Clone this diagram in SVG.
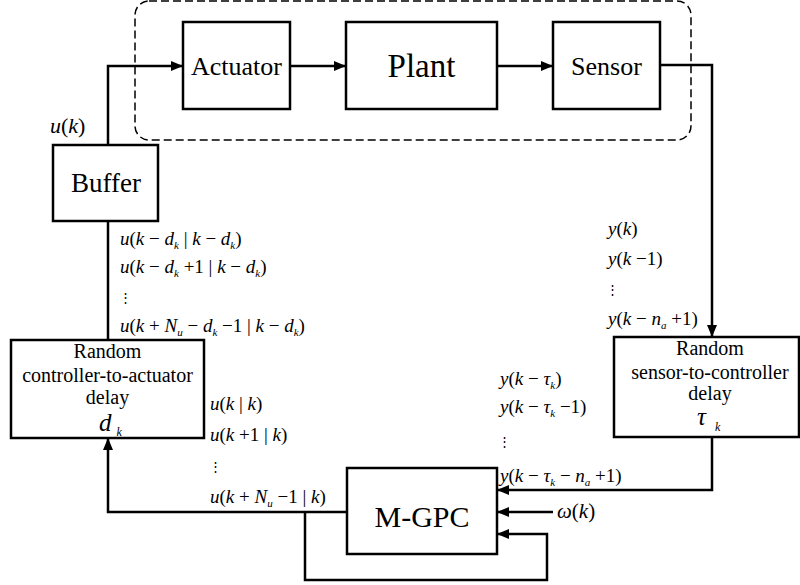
<svg xmlns="http://www.w3.org/2000/svg" width="800" height="585" viewBox="0 0 800 585" font-family="Liberation Serif, Times New Roman, serif">
<style>
.box{fill:#fff;stroke:#000;stroke-width:2.5}
.lbl{fill:#000;text-anchor:middle}
.ln{fill:none;stroke:#000;stroke-width:2.5}
.m{font-style:italic;font-size:19px;fill:#000}
.r{font-style:normal}
.s{font-size:11px}
.dots{font-size:13px;fill:#000}
</style>
<defs>
<marker id="ah" markerWidth="12" markerHeight="10" refX="12" refY="5" orient="auto" markerUnits="userSpaceOnUse">
<path d="M0,0 L12,5 L0,10 Z" fill="#000"/>
</marker>
</defs>
<rect width="800" height="585" fill="#fff"/>
<rect id="network-boundary" x="135" y="1" width="556" height="139" rx="14" fill="none" stroke="#000" stroke-width="1.5" stroke-dasharray="8 4"/>

<g id="actuator"><rect class="box" x="183" y="22" width="107" height="87"/><text class="lbl" x="236.5" y="75" font-size="26">Actuator</text></g>
<g id="plant"><rect class="box" x="346" y="22" width="151" height="87"/><text class="lbl" x="421.5" y="77" font-size="33">Plant</text></g>
<g id="sensor"><rect class="box" x="553" y="22" width="107" height="87"/><text class="lbl" x="606.5" y="75" font-size="26">Sensor</text></g>
<g id="buffer"><rect class="box" x="53" y="145" width="105" height="76"/><text class="lbl" x="106" y="192" font-size="27">Buffer</text></g>
<g id="ca-delay"><rect class="box" x="11" y="340" width="193" height="98"/>
<text class="lbl" x="107.5" y="358" font-size="20">Random</text>
<text class="lbl" x="107.5" y="382" font-size="20">controller-to-actuator</text>
<text class="lbl" x="107.5" y="404" font-size="20">delay</text>
<text class="m" x="99" y="431" style="font-size:25px">d<tspan style="font-size:12px" dx="5" dy="5">k</tspan></text></g>
<g id="sc-delay"><rect class="box" x="614" y="337" width="185" height="100"/>
<text class="lbl" x="710" y="355" font-size="20">Random</text>
<text class="lbl" x="710" y="379" font-size="20">sensor-to-controller</text>
<text class="lbl" x="710" y="400" font-size="20">delay</text>
<text class="m" x="697" y="425" style="font-size:25px">τ<tspan style="font-size:12px" dx="9" dy="6">k</tspan></text></g>
<g id="mgpc"><rect class="box" x="347" y="468" width="150" height="86"/><text class="lbl" x="422" y="527" font-size="30">M-GPC</text></g>

<g id="connectors">
<polyline class="ln" points="108,145 108,66 183,66" marker-end="url(#ah)"/>
<line class="ln" x1="290" y1="66" x2="346" y2="66" marker-end="url(#ah)"/>
<line class="ln" x1="497" y1="66" x2="553" y2="66" marker-end="url(#ah)"/>
<polyline class="ln" points="660,65 712,65 712,337" marker-end="url(#ah)"/>
<line class="ln" x1="108" y1="221" x2="108" y2="340"/>
<polyline class="ln" points="712,437 712,490 497,490" marker-end="url(#ah)"/>
<line class="ln" x1="553" y1="512" x2="497" y2="512" marker-end="url(#ah)"/>
<polyline class="ln" points="347,512 108,512 108,438" marker-end="url(#ah)"/>
<polyline class="ln" points="305,512 305,580 547,580 547,534 497,534" marker-end="url(#ah)"/>
</g>

<g id="labels">
<text class="m" x="50" y="133" style="font-size:22px">u<tspan class="r">(</tspan>k<tspan class="r">)</tspan></text>

<text class="m" x="120" y="245">u<tspan class="r">(</tspan>k <tspan class="r">−</tspan> d<tspan class="s" dy="4">k</tspan><tspan class="r" dy="-4"> | </tspan>k <tspan class="r">−</tspan> d<tspan class="s" dy="4">k</tspan><tspan class="r" dy="-4">)</tspan></text>
<text class="m" x="120" y="273">u<tspan class="r">(</tspan>k <tspan class="r">−</tspan> d<tspan class="s" dy="4">k</tspan><tspan class="r" dy="-4"> +1 | </tspan>k <tspan class="r">−</tspan> d<tspan class="s" dy="4">k</tspan><tspan class="r" dy="-4">)</tspan></text>
<text class="dots" x="119" y="302">⋮</text>
<text class="m" x="120" y="332">u<tspan class="r">(</tspan>k <tspan class="r">+</tspan> N<tspan class="s" dy="4">u</tspan><tspan class="r" dy="-4"> − </tspan>d<tspan class="s" dy="4">k</tspan><tspan class="r" dy="-4"> −1 | </tspan>k <tspan class="r">−</tspan> d<tspan class="s" dy="4">k</tspan><tspan class="r" dy="-4">)</tspan></text>

<text class="m" x="210" y="410">u<tspan class="r">(</tspan>k<tspan class="r"> | </tspan>k<tspan class="r">)</tspan></text>
<text class="m" x="210" y="441">u<tspan class="r">(</tspan>k <tspan class="r">+1 | </tspan>k<tspan class="r">)</tspan></text>
<text class="dots" x="209" y="471">⋮</text>
<text class="m" x="210" y="503">u<tspan class="r">(</tspan>k <tspan class="r">+</tspan> N<tspan class="s" dy="4">u</tspan><tspan class="r" dy="-4"> −1 | </tspan>k<tspan class="r">)</tspan></text>

<text class="m" x="608" y="235">y<tspan class="r">(</tspan>k<tspan class="r">)</tspan></text>
<text class="m" x="608" y="265">y<tspan class="r">(</tspan>k <tspan class="r">−1)</tspan></text>
<text class="dots" x="606" y="294">⋮</text>
<text class="m" x="608" y="325">y<tspan class="r">(</tspan>k <tspan class="r">−</tspan> n<tspan class="s" dy="4">a</tspan><tspan class="r" dy="-4"> +1)</tspan></text>

<text class="m" x="500" y="385">y<tspan class="r">(</tspan>k <tspan class="r">−</tspan> τ<tspan class="s" dy="4">k</tspan><tspan class="r" dy="-4">)</tspan></text>
<text class="m" x="500" y="413">y<tspan class="r">(</tspan>k <tspan class="r">−</tspan> τ<tspan class="s" dy="4">k</tspan><tspan class="r" dy="-4"> −1)</tspan></text>
<text class="dots" x="498" y="446">⋮</text>
<text class="m" x="500" y="482">y<tspan class="r">(</tspan>k <tspan class="r">−</tspan> τ<tspan class="s" dy="4">k</tspan><tspan class="r" dy="-4"> − </tspan>n<tspan class="s" dy="4">a</tspan><tspan class="r" dy="-4"> +1)</tspan></text>

<text class="m" x="557" y="518" style="font-size:21px">ω<tspan class="r">(</tspan>k<tspan class="r">)</tspan></text>
</g>
</svg>
